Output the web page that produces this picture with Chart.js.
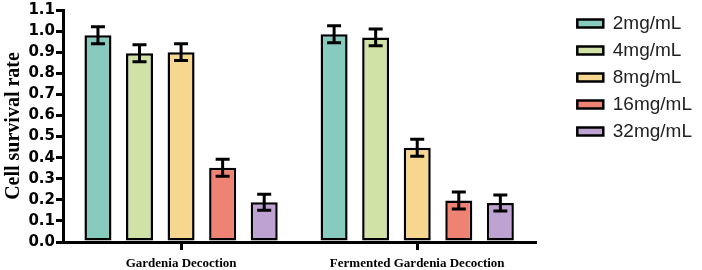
<!DOCTYPE html>
<html>
<head>
<meta charset="utf-8">
<script src="https://cdn.jsdelivr.net/npm/chart.js@4/dist/chart.umd.min.js"></script>
<style>
  html, body { margin: 0; padding: 0; background: #fff; }
  #wrap { width: 702px; height: 270px; }
</style>
</head>
<body>
<div id="wrap"><canvas id="c"></canvas></div>
<script>
// groups on the x axis
const groups = ["Gardenia Decoction", "Fermented Gardenia Decoction"]
// one series per concentration
const doses = ["2mg/mL", "4mg/mL", "8mg/mL", "16mg/mL", "32mg/mL"]
const colors = ["#87CABE", "#D0E2A5", "#F7D68F", "#EF8373", "#BEA2D1"]

// survival rate per dose, [gardenia, fermented]
const v2 = [0.98, 0.985]
const v4 = [0.895, 0.97]
const v8 = [0.90, 0.447]
const v16 = [0.352, 0.197]
const v32 = [0.188, 0.185]

// error bar half length
const e2 = [0.04, 0.04]
const e4 = [0.04, 0.04]
const e8 = [0.04, 0.04]
const e16 = [0.04, 0.04]
const e32 = [0.038, 0.038]

const values = [v2, v4, v8, v16, v32]
const errors = [e2, e4, e8, e16, e32]

const yTicks = [0, 0.1, 0.2, 0.3, 0.4, 0.5, 0.6, 0.7, 0.8, 0.9, 1.0, 1.1]

// draws the error bars through the y scale
const errorBars = {
    id: "errorBars",
    afterDatasetsDraw(chart) {
        const ctx = chart.ctx
        const y = chart.scales.y
        ctx.save()
        ctx.strokeStyle = "#000"
        ctx.lineWidth = 3
        chart.data.datasets.forEach((ds, i) => {
            const meta = chart.getDatasetMeta(i)
            meta.data.forEach((bar, j) => {
                const v = values[i][j]
                const e = errors[i][j]
                const top = y.getPixelForValue(v + e)
                const bot = y.getPixelForValue(v - e)
                const x = bar.x
                ctx.beginPath()
                ctx.moveTo(x, top); ctx.lineTo(x, bot)
                ctx.moveTo(x - 7, top); ctx.lineTo(x + 7, top)
                ctx.moveTo(x - 7, bot); ctx.lineTo(x + 7, bot)
                ctx.stroke()
            })
        })
        ctx.restore()
    }
}

const ctx = document.getElementById("c").getContext("2d")
new Chart(ctx, {
    type: "bar",
    data: {
        labels: groups,
        datasets: doses.map((d, i) => ({
            label: d,
            data: values[i],
            backgroundColor: colors[i],
            borderColor: "#000",
            borderWidth: 2.5,
            borderSkipped: false,
            categoryPercentage: 0.88,
            barPercentage: 0.65
        }))
    },
    options: {
        responsive: true,
        maintainAspectRatio: false,
        animation: false,
        layout: { padding: { top: 6, right: 0, left: 0, bottom: 0 } },
        plugins: {
            tooltip: { enabled: false },
            legend: {
                position: "right",
                align: "start",
                maxWidth: 200,
                labels: {
                    boxWidth: 26,
                    boxHeight: 8,
                    padding: 8,
                    color: "#222",
                    font: { family: "Liberation Sans", size: 19 }
                }
            }
        },
        scales: {
            x: {
                grid: {
                    display: true,
                    drawOnChartArea: false,
                    drawTicks: true,
                    tickLength: 8,
                    offset: false,
                    color: "#000",
                    lineWidth: 3
                },
                border: { display: true, color: "#000", width: 3 },
                ticks: {
                    color: "#000",
                    padding: 6,
                    font: { family: "Liberation Serif", size: 13, weight: "bold" }
                },
                afterFit: s => { s.height = 28 }
            },
            y: {
                min: 0,
                max: 1.1,
                afterBuildTicks: s => { s.ticks = yTicks.map(v => ({ value: v })) },
                grid: {
                    display: true,
                    drawOnChartArea: false,
                    drawTicks: true,
                    tickLength: 7,
                    color: "#000",
                    lineWidth: 3
                },
                border: { display: true, color: "#000", width: 3 },
                ticks: {
                    color: "#000",
                    padding: 1,
                    font: { family: "DejaVu Sans", size: 15, weight: "bold" },
                    callback: v => v.toFixed(1)
                },
                title: {
                    display: true,
                    text: "Cell survival rate",
                    color: "#000",
                    padding: { top: 2, bottom: 4 },
                    font: { family: "Liberation Serif", size: 20, weight: "bold" }
                },
                afterFit: s => { s.width = 63 }
            },
            // empty axis, only keeps room between plot and legend
            gap: {
                position: "right",
                display: true,
                grid: { display: false },
                border: { display: false },
                ticks: { display: false },
                afterFit: s => { s.width = 34 }
            }
        }
    },
    plugins: [errorBars]
})
</script>
</body>
</html>
